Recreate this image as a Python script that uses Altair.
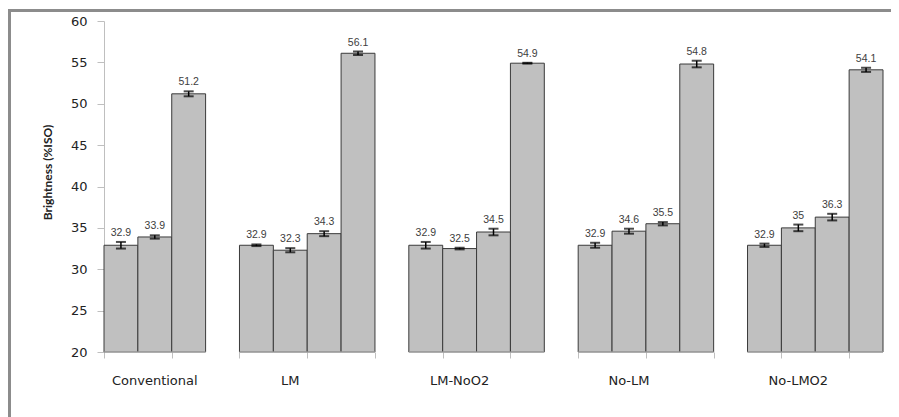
import altair as alt
import pandas as pd

groups = ["Conventional", "LM", "LM-NoO2", "No-LM", "No-LMO2"]
values = [
    [32.9, 33.9, 51.2],
    [32.9, 32.3, 34.3, 56.1],
    [32.9, 32.5, 34.5, 54.9],
    [32.9, 34.6, 35.5, 54.8],
    [32.9, 35.0, 36.3, 54.1],
]
errors = [
    [0.4, 0.2, 0.3],
    [0.1, 0.25, 0.3, 0.2],
    [0.4, 0.1, 0.4, 0.05],
    [0.3, 0.3, 0.2, 0.4],
    [0.2, 0.4, 0.4, 0.25],
]
y_ticks = [20, 25, 30, 35, 40, 45, 50, 55, 60]

rows = []
grows = []
s = 0
for gi, g in enumerate(groups):
    gstart = s
    if gi > 0:
        s += 1  # blank category slot before the group
    for v, e in zip(values[gi], errors[gi]):
        rows.append({"group": g, "x0": s, "x1": s + 1, "xc": s + 0.5, "v": v,
                     "lo": v - e, "hi": v + e, "label": f"{v:g}"})
        s += 1
    grows.append({"group": g, "xc": (gstart + s) / 2})
nslots = s
df = pd.DataFrame(rows)
gdf = pd.DataFrame(grows)

W, H = 779, 331
xscale = alt.Scale(domain=[0, nslots], nice=False, zero=False)
yscale = alt.Scale(domain=[20, 60], nice=False, zero=False)

base = alt.Chart(df)

bars = base.mark_bar(fill="#C0C0C0", stroke="#3a3a3a", strokeWidth=1).encode(
    x=alt.X("x0:Q", scale=xscale,
            axis=alt.Axis(values=list(range(nslots + 1)), labels=False, domain=False,
                          grid=False, tickColor="#BFBFBF", tickSize=6, title=None)),
    x2="x1:Q",
    y=alt.Y("v:Q", scale=yscale,
            axis=alt.Axis(values=y_ticks, grid=False, domainColor="#BFBFBF",
                          tickColor="#BFBFBF", tickSize=7, labelPadding=10,
                          labelFont="DejaVu Sans", labelFontSize=13, labelColor="#222222",
                          title="Brightness (%ISO)", titleFont="Lato", titleFontSize=12,
                          titleFontWeight="bold", titleColor="#222222",
                          titleX=-57, titleY=151, titleBaseline="middle")),
    y2=alt.datum(20),
)

# hide the dark outline along the bars' bottoms, as in the original
bottoms = base.mark_rule(color="#C0C0C0", strokeWidth=1.2).encode(
    x=alt.X("x0:Q", scale=xscale), x2="x1:Q", y=alt.datum(20))

err = base.mark_rule(color="black", strokeWidth=1.5).encode(
    x=alt.X("xc:Q", scale=xscale), y=alt.Y("lo:Q", scale=yscale), y2="hi:Q")
cap_lo = base.mark_tick(color="black", orient="horizontal", size=10, thickness=2).encode(
    x=alt.X("xc:Q", scale=xscale), y=alt.Y("lo:Q", scale=yscale))
cap_hi = base.mark_tick(color="black", orient="horizontal", size=10, thickness=2).encode(
    x=alt.X("xc:Q", scale=xscale), y=alt.Y("hi:Q", scale=yscale))

labels = base.mark_text(font="Liberation Sans", fontSize=10.5, color="#404040",
                        baseline="bottom", dy=-4).encode(
    x=alt.X("xc:Q", scale=xscale), y=alt.Y("hi:Q", scale=yscale), text="label:N")

glabels = alt.Chart(gdf).mark_text(font="DejaVu Sans", fontSize=13, color="#222222",
                                   baseline="middle").encode(
    x=alt.X("xc:Q", scale=xscale), y=alt.value(360), text="group:N")

border = alt.Chart(pd.DataFrame({"a": [0]})).mark_rect(
    fill="white", fillOpacity=0, stroke="#8C8C8C", strokeWidth=3).encode(
    x=alt.value(-94.5), x2=alt.value(1000), y=alt.value(-10.5), y2=alt.value(600))

chart = alt.layer(bars, bottoms, err, cap_lo, cap_hi, labels, glabels, border).properties(
    width=W, height=H,
    autosize=alt.AutoSizeParams(type="none"),
    padding={"left": 96, "top": 13, "right": 8, "bottom": 65},
    background="white",
).configure_view(strokeWidth=0)

chart.save("out.html", embed_options={"renderer": "svg", "actions": False})
